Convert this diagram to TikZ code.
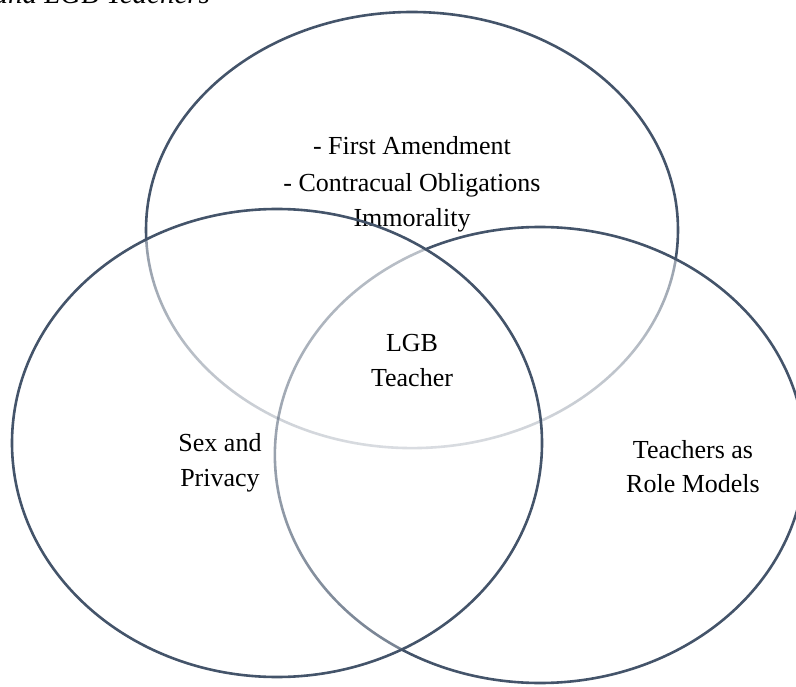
\documentclass[tikz,border=0pt]{standalone}
\usepackage{fontspec}
\setmainfont{Liberation Serif}
\usetikzlibrary{fadings}

\definecolor{vennline}{HTML}{44546A}
\tikzfading[name=fadetop, top color=transparent!0, bottom color=transparent!80]
\tikzfading[name=faderight, top color=transparent!65, bottom color=transparent!25]

\begin{document}
\begin{tikzpicture}[x=1pt,y=1pt,line cap=round,line join=round,
  vennring/.style={draw=vennline,line width=2.6pt},
  vennlabel/.style={font=\fontsize{26}{34}\selectfont,text=black,anchor=base}]
  \useasboundingbox (0,0) rectangle (796,-687);

  % --- centres of the three circles ---
  \coordinate (T) at (412,-230);
  \coordinate (L) at (277,-443);
  \coordinate (R) at (540,-455);

  % --- caption, cut off by the page edge ---
  \node[vennlabel,anchor=base west,font=\fontsize{29}{34}\selectfont\itshape] (caption) at (-10,-4) {and LGB Teachers};

  % --- texts ---
  \node[vennlabel] (law1) at (412,-155) {- First Amendment};
  \node[vennlabel] (law2) at (412,-192) {- Contracual Obligations};
  \node[vennlabel] (law3) at (412,-227) {Immorality};
  \node[vennlabel] (lgb1) at (412,-352) {LGB};
  \node[vennlabel] (lgb2) at (412,-387) {Teacher};
  \node[vennlabel] (sex1) at (220,-451) {Sex and};
  \node[vennlabel] (sex2) at (220,-486) {Privacy};
  \node[vennlabel] (role1) at (693,-458) {Teachers as};
  \node[vennlabel] (role2) at (693,-492) {Role Models};

  % --- top circle: dark outside the other two ---
  \begin{scope}[even odd rule]
    \clip (-10,10) rectangle (810,-700) (L) ellipse [x radius=265, y radius=234];
    \clip (-10,10) rectangle (810,-700) (R) ellipse [x radius=265, y radius=228];
    \draw[vennring] (T) ellipse [x radius=266, y radius=218];
  \end{scope}
  % --- top circle: faded inside them ---
  \begin{scope}
    \clip (L) ellipse [x radius=265, y radius=234] (R) ellipse [x radius=265, y radius=228];
    \draw[vennring,path fading=fadetop] (T) ellipse [x radius=266, y radius=218];
  \end{scope}

  % --- left circle ---
  \draw[vennring] (L) ellipse [x radius=265, y radius=234];

  % --- right circle: dark outside the left one, faded inside ---
  \begin{scope}[even odd rule]
    \clip (-10,10) rectangle (810,-700) (L) ellipse [x radius=265, y radius=234];
    \draw[vennring] (R) ellipse [x radius=265, y radius=228];
  \end{scope}
  \begin{scope}
    \clip (L) ellipse [x radius=265, y radius=234];
    \draw[vennring,path fading=faderight] (R) ellipse [x radius=265, y radius=228];
  \end{scope}
\end{tikzpicture}
\end{document}
